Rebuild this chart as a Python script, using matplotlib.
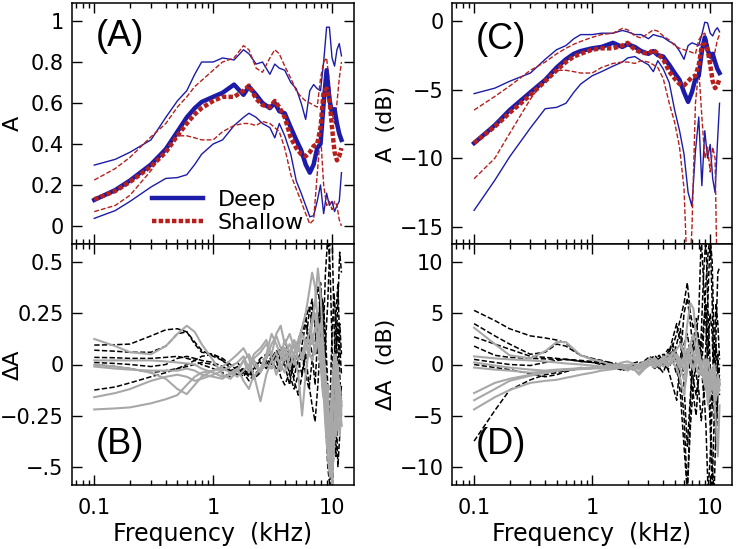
import numpy as np
import matplotlib
matplotlib.use("Agg")
import matplotlib.pyplot as plt
from matplotlib.ticker import FixedLocator, FixedFormatter, LogLocator, NullFormatter

# frequency grid (kHz) for the absorbance panels
freq = [0.1, 0.15, 0.2, 0.3, 0.4, 0.5, 0.6, 0.7, 0.8, 1.0, 1.2, 1.5, 1.8, 2.0, 2.3, 2.6,
        3.0, 3.3, 3.6, 4.0, 4.5, 5.0, 5.5, 6.0, 6.5, 7.0, 7.5, 8.0, 8.5, 9.0, 9.5, 10.0,
        10.5, 11.0, 11.5, 12.0]

# panel A, absorbance
deep_mean = [.127, .175, .222, .30, .375, .46, .53, .575, .605, .63, .65, .69, .64, .68, .64, .60,
             .575, .60, .56, .55, .48, .42, .37, .30, .26, .30, .38, .40, .60, .76, .62, .55,
             .57, .50, .45, .42]
deep_hi = [.297, .325, .36, .42, .53, .61, .66, .74, .80, .80, .82, .81, .86, .84, .79, .80,
           .74, .79, .77, .76, .70, .67, .60, .52, .66, .69, .67, .66, .80, .97, .97, .82,
           .78, .86, .89, .83]
deep_lo = [.037, .075, .12, .19, .232, .236, .25, .30, .35, .40, .42, .49, .53, .55, .53, .50,
           .48, .43, .50, .44, .35, .22, .16, .10, .045, .05, .12, .20, .06, .16, .10, .12,
           .07, .10, .12, .26]
shal_mean = [.13, .17, .215, .29, .36, .44, .50, .545, .575, .61, .63, .63, .66, .685, .62, .59,
             .58, .61, .58, .53, .43, .38, .35, .34, .36, .39, .40, .48, .66, .67, .62, .48,
             .36, .32, .34, .38]
shal_hi = [.224, .28, .335, .435, .50, .58, .63, .68, .71, .76, .80, .82, .88, .86, .77, .75,
           .82, .86, .84, .78, .72, .66, .63, .61, .60, .59, .58, .72, .80, .82, .70, .55,
           .50, .60, .72, .80]
shal_lo = [.07, .10, .15, .27, .38, .44, .44, .43, .42, .42, .46, .49, .50, .50, .49, .51,
           .50, .48, .46, .38, .25, .18, .12, .06, .01, .03, .25, .45, .20, .10, .12, .08,
           .12, .10, .03, .0]

# panel C, absorbance in dB
deep_mean_db = [-8.9, -7.6, -6.5, -5.2, -4.3, -3.4, -2.8, -2.4, -2.2, -2.0, -1.9, -1.6, -1.9, -1.7,
                -1.9, -2.2, -2.4, -2.2, -2.5, -2.6, -3.2, -3.8, -4.3, -5.2, -5.9, -5.2, -4.2, -4.0,
                -2.2, -1.2, -2.1, -2.6, -2.4, -3.0, -3.5, -3.8]
deep_hi_db = [-5.3, -4.9, -4.4, -3.8, -2.8, -2.1, -1.8, -1.3, -1.0, -1.0, -0.9, -0.9, -0.7, -0.8,
              -1.0, -1.0, -1.3, -1.0, -1.1, -1.2, -1.5, -1.7, -2.2, -2.8, -1.8, -1.6, -1.7, -1.8,
              -1.0, -0.1, -0.15, -0.9, -1.1, -0.7, -0.5, -0.8]
deep_lo_db = [-13.8, -11.6, -9.9, -7.8, -6.4, -6.3, -6.0, -5.2, -4.6, -4.0, -3.7, -3.3, -3.0, -2.7,
              -2.6, -2.9, -3.2, -3.7, -2.9, -3.5, -4.5, -6.5, -8.0, -9.7, -12.5, -13.5, -9.5, -7.0,
              -12.0, -8.0, -10.0, -9.0, -11.5, -12.5, -9.0, -6.0]
shal_mean_db = [-8.9, -7.7, -6.7, -5.4, -4.4, -3.6, -3.0, -2.6, -2.4, -2.1, -2.0, -2.0, -1.8, -1.6,
                -2.1, -2.3, -2.4, -2.1, -2.4, -2.8, -3.7, -4.2, -4.6, -4.7, -4.4, -4.1, -4.0, -3.2,
                -1.8, -1.7, -2.1, -3.2, -4.4, -4.9, -4.7, -4.2]
shal_hi_db = [-6.5, -5.5, -4.75, -3.6, -3.0, -2.4, -2.0, -1.7, -1.5, -1.2, -1.0, -0.9, -0.55, -0.65,
              -1.1, -1.25, -0.9, -0.65, -0.75, -1.1, -1.4, -1.8, -2.0, -2.1, -2.2, -2.3, -2.4, -1.4,
              -1.0, -0.9, -1.5, -2.6, -3.0, -2.2, -1.4, -1.0]
shal_lo_db = [-11.5, -10.0, -8.2, -5.7, -4.2, -3.6, -3.6, -3.7, -3.8, -3.8, -3.4, -3.1, -3.0, -3.0,
              -3.1, -2.9, -3.0, -3.2, -3.4, -4.2, -6.0, -7.4, -9.2, -12.2, -20.0, -15.2, -6.0, -3.5,
              -7.0, -10.0, -9.2, -11.0, -9.2, -10.0, -20.0, -20.0]

# frequency grid (kHz) for the difference panels
freq_d = [0.1, 0.15, 0.2, 0.3, 0.4, 0.5, 0.6, 0.7, 0.8, 1.0, 1.2, 1.4, 1.6, 1.8, 2.0, 2.2, 2.5,
          2.8, 3.1, 3.4, 3.7, 4.0, 4.4, 4.8, 5.2, 5.6, 6.0, 6.4, 6.8, 7.2, 7.6, 8.0, 8.4, 8.8,
          9.2, 9.6, 10.0, 10.4, 10.8, 11.2, 11.6, 12.0]

# panel B, delta absorbance (black dashed, gray solid)
dA_black = [
    [0.095, 0.097, 0.10, 0.14, 0.17, 0.175, 0.16, 0.11, 0.07, 0.04, 0.02, -0.01, 0.01, -0.03, -0.05,
     -0.02, 0.02, 0.03, 0.06, 0.04, -0.03, 0.02, 0.05, -0.02, 0.08, 0.15, 0.22, 0.28, 0.20, 0.30,
     0.38, 0.25, 0.10, 0.45, 0.62, 0.50, 0.10, -0.30, -0.45, -0.10, 0.20, 0.05],
    [0.07, 0.065, 0.06, 0.06, 0.09, 0.15, 0.16, 0.10, 0.06, 0.05, 0.03, 0.00, -0.03, -0.06, -0.02,
     -0.07, -0.04, 0.02, 0.00, 0.05, 0.08, 0.00, -0.10, 0.05, 0.12, 0.18, 0.25, 0.10, 0.28, 0.20,
     0.15, 0.35, 0.30, 0.05, -0.20, -0.45, -0.62, -0.40, 0.10, 0.30, 0.55, 0.45],
    [0.035, 0.033, 0.03, 0.03, 0.035, 0.04, 0.03, 0.02, 0.04, 0.05, 0.02, -0.02, -0.04, -0.03, -0.06,
     -0.03, 0.01, -0.02, 0.03, 0.07, 0.02, 0.05, -0.05, -0.12, -0.05, 0.10, 0.20, 0.15, 0.05, -0.10,
     0.15, 0.28, 0.05, -0.15, -0.35, -0.20, 0.15, 0.35, 0.20, -0.05, -0.25, -0.10],
    [0.01, 0.005, 0.0, -0.01, 0.0, 0.03, 0.04, 0.03, 0.02, 0.01, -0.01, -0.03, -0.05, -0.04, -0.08,
     -0.05, -0.02, 0.01, -0.02, 0.03, 0.05, 0.08, 0.02, -0.08, -0.15, -0.05, 0.05, -0.10, -0.20, -0.28,
     -0.10, 0.12, 0.30, 0.15, -0.10, -0.40, -0.55, -0.30, 0.05, 0.20, -0.05, -0.20],
    [-0.125, -0.11, -0.09, -0.06, -0.04, -0.02, -0.01, 0.0, 0.01, 0.0, -0.02, -0.03, -0.01, -0.05,
     -0.03, -0.06, -0.03, 0.0, 0.04, 0.02, -0.06, -0.10, -0.04, 0.05, 0.02, -0.05, 0.10, 0.25, 0.32,
     0.18, 0.05, 0.40, 0.20, -0.25, -0.50, -0.60, -0.30, 0.00, 0.25, 0.40, 0.10, -0.05],
    [0.0, -0.01, -0.02, -0.04, -0.03, -0.02, 0.0, 0.02, 0.0, -0.02, -0.04, -0.06, -0.04, -0.02, -0.05,
     -0.01, 0.03, 0.05, 0.02, -0.02, 0.06, 0.12, 0.04, -0.06, 0.03, 0.08, -0.05, -0.12, 0.02, 0.10,
     0.25, 0.05, -0.15, 0.10, 0.30, 0.60, 0.65, 0.20, -0.20, -0.50, -0.35, -0.15],
]
dA_gray = [
    [0.125, 0.09, 0.06, 0.05, 0.09, 0.15, 0.19, 0.16, 0.10, 0.02, -0.05, -0.07, -0.03, 0.02, -0.04,
     0.03, 0.06, 0.10, 0.05, 0.15, 0.19, 0.10, 0.15, 0.08, 0.12, 0.18, 0.25, 0.35, 0.45, 0.38, 0.20,
     0.10, -0.10, -0.30, -0.45, -0.55, -0.30, -0.10, 0.05, -0.15, -0.25, -0.18],
    [0.02, 0.02, 0.02, 0.02, 0.015, 0.01, 0.005, 0.0, -0.02, -0.04, -0.06, -0.05, -0.03, 0.02, 0.05,
     0.00, -0.04, 0.03, 0.10, 0.14, 0.08, 0.02, 0.06, 0.12, 0.08, 0.04, 0.10, 0.15, 0.22, 0.30, 0.47,
     0.35, 0.10, -0.05, -0.20, -0.35, -0.15, 0.05, -0.10, -0.25, -0.35, -0.20],
    [-0.01, -0.02, -0.025, -0.03, -0.03, -0.03, -0.02, -0.03, -0.05, -0.06, -0.07, -0.04, -0.02, -0.08,
     -0.12, -0.05, -0.18, -0.05, 0.02, 0.06, -0.03, 0.05, 0.10, 0.04, -0.05, -0.25, -0.05, 0.08, 0.15,
     0.05, 0.12, 0.20, 0.05, -0.15, -0.30, -0.45, -0.55, -0.40, -0.20, -0.30, -0.15, -0.25],
    [-0.16, -0.14, -0.12, -0.08, -0.06, -0.05, -0.06, -0.08, -0.07, -0.05, -0.03, -0.01, 0.01, 0.04,
     -0.02, 0.05, 0.08, 0.12, 0.03, -0.05, 0.02, 0.08, -0.02, 0.06, 0.10, 0.02, 0.08, 0.12, 0.10, 0.18,
     0.14, 0.05, -0.05, -0.20, -0.40, -0.30, -0.10, -0.20, -0.35, -0.25, -0.10, -0.20],
    [-0.22, -0.215, -0.21, -0.19, -0.17, -0.15, -0.10, -0.06, -0.04, -0.03, -0.02, -0.04, -0.06, -0.03,
     0.00, 0.02, -0.03, 0.00, -0.02, 0.03, 0.00, -0.04, 0.04, 0.10, 0.02, 0.05, 0.12, 0.06, 0.02, 0.08,
     0.15, 0.12, 0.00, -0.10, -0.25, -0.50, -0.40, -0.30, -0.20, -0.05, -0.15, -0.30],
    [0.0, -0.01, -0.02, -0.04, -0.07, -0.12, -0.145, -0.10, -0.06, -0.03, -0.01, 0.02, 0.05, 0.08, 0.03,
     -0.06, -0.02, 0.05, 0.15, 0.10, 0.04, 0.12, 0.06, 0.00, 0.08, 0.15, 0.10, 0.04, 0.20, 0.25, 0.10,
     0.00, -0.15, -0.20, -0.10, -0.40, -0.60, -0.30, -0.10, 0.00, -0.20, -0.30],
]

# panel D, delta absorbance in dB
dB_black = [
    [5.3, 4.3, 3.5, 2.8, 2.6, 2.4, 2.1, 1.4, 0.9, 0.5, 0.3, 0.2, 0.1, -0.2, 0.0, -0.3, -0.1, 0.3, 0.6,
     0.2, -0.3, 0.5, 1.2, 1.8, 3.0, 4.5, 6.0, 8.0, 5.0, 3.5, 4.5, 2.0, -1.0, 3.0, 8.0, 11.0, 12.5,
     6.0, -2.0, -6.0, -3.0, -1.0],
    [4.0, 2.8, 2.0, 1.0, 1.2, 2.0, 1.8, 1.3, 0.9, 0.6, 0.4, 0.2, -0.1, -0.4, -0.2, 0.1, 0.3, -0.2, 0.1,
     0.5, 0.9, 0.3, -0.5, 0.5, 2.0, 3.5, -2.0, -8.0, -3.0, 1.0, 3.0, 5.0, 12.5, 8.0, 4.0, -1.0, -6.0,
     -12.5, -5.0, 3.0, 9.0, 9.5],
    [2.7, 2.0, 1.5, 0.8, 0.7, 0.6, 0.5, 0.4, 0.3, 0.2, 0.1, -0.1, -0.3, -0.2, -0.4, -0.1, 0.0, 0.2, 0.4,
     0.1, -0.4, 0.0, 1.0, 2.0, 1.0, -1.5, -5.0, -12.5, -4.0, 2.0, 4.0, 2.5, 0.0, -3.0, -1.0, 2.0, 5.0,
     3.0, -4.0, -8.0, -3.0, 0.0],
    [1.8, 0.9, 0.7, 0.6, 0.55, 0.5, 0.5, 0.45, 0.4, 0.3, 0.2, 0.0, -0.2, -0.1, -0.3, -0.5, -0.2, 0.1,
     -0.2, 0.3, 0.6, 1.0, -0.5, -2.0, -3.5, 0.5, 5.0, 6.5, 4.0, 1.0, -1.0, -2.5, -5.5, -3.0, 2.0, 7.0,
     12.5, 10.0, 2.0, -3.0, 1.0, -2.0],
    [0.5, 0.2, 0.0, -0.1, 0.2, 0.4, 0.5, 0.4, 0.3, 0.2, 0.0, -0.2, -0.4, -0.5, -0.2, -0.4, 0.0, 0.4, 0.8,
     0.2, -0.3, -0.8, 0.5, 1.5, 0.0, -3.0, -8.0, -12.5, -6.0, -2.0, 0.5, 2.5, 1.0, -2.0, -6.0, -12.5,
     -9.0, -4.0, 0.0, 2.0, -1.0, -3.0],
    [-7.5, -4.5, -2.5, -1.5, -1.0, -0.8, -0.6, -0.5, -0.4, -0.3, -0.2, -0.3, -0.1, -0.3, -0.5, -0.2, 0.1,
     0.3, 0.0, -0.4, 0.2, 0.8, 1.5, 0.5, -1.0, -0.5, 2.0, 3.0, 1.0, -1.5, -3.0, -1.0, 1.5, 4.0, 6.0,
     2.0, -4.0, -10.0, -12.5, -6.0, -2.0, -1.0],
    [0.0, -0.3, -0.5, -0.9, -1.2, -1.0, -0.7, -0.5, -0.3, -0.4, -0.3, -0.1, -0.3, -0.6, -0.4, -0.1, -0.3,
     0.0, 0.5, 0.9, 0.3, -0.2, 0.8, 2.5, 4.0, 2.0, 0.0, 1.5, -1.0, -3.0, -5.0, -1.0, 3.0, 9.0, 12.5,
     5.0, 0.0, -4.0, 1.0, 6.0, 4.0, 0.5],
]
dB_gray = [
    [3.6, 2.0, 0.9, 0.6, 1.3, 2.2, 2.2, 1.5, 0.9, 0.5, 0.3, 0.0, -0.3, -0.2, -0.5, -0.4, -0.8, -0.2, 0.3,
     0.6, 0.2, 0.8, 0.4, 1.0, 1.5, 2.0, 1.0, 4.0, 6.0, 5.5, 3.0, 1.0, 0.0, -1.0, 0.5, -2.0, -3.0, -1.5,
     0.0, -2.5, -3.0, -2.0],
    [0.8, 0.6, 0.5, 0.4, 0.3, 0.2, 0.1, 0.05, 0.0, -0.1, -0.2, -0.1, 0.0, 0.2, 0.3, 0.1, -0.2, 0.2, 0.6,
     0.4, 0.0, 0.6, 1.0, 0.5, 0.2, -0.5, -1.5, 0.5, 2.0, 1.0, 0.0, -1.0, -0.5, 0.5, -1.0, -3.0, -1.5,
     -0.5, -1.0, -2.0, -2.5, -1.8],
    [0.2, -0.1, -0.3, -0.5, -0.6, -0.5, -0.45, -0.4, -0.35, -0.3, -0.4, -0.2, 0.0, -0.3, -0.6, -0.3,
     -1.0, -0.4, 0.0, 0.3, -0.2, 0.3, 0.7, 0.2, -0.3, -1.5, -3.0, -0.5, 1.0, 0.5, 1.5, 1.0, 0.0, -1.5,
     -0.5, 0.5, -1.0, -2.0, -3.0, -1.5, -2.0, -1.5],
    [-0.3, -0.5, -0.6, -0.8, -0.7, -0.6, -0.5, -0.45, -0.4, -0.35, -0.3, -0.2, -0.1, -0.4, -0.2, 0.1,
     -0.3, -0.1, 0.3, 0.0, 0.4, 0.2, -0.2, 0.4, 0.8, 0.3, -0.5, 0.5, 1.5, 1.0, 0.5, 0.0, -0.5, -1.5,
     -2.5, -1.0, -0.5, -1.5, -2.5, -3.5, -2.0, -2.5],
    [-2.8, -1.8, -1.4, -1.0, -0.8, -0.6, -0.5, -0.45, -0.4, -0.35, -0.3, -0.3, -0.2, 0.0, -0.2, -0.4,
     -0.1, 0.2, 0.0, -0.3, 0.2, 0.5, 0.0, 0.6, 1.0, 0.5, 0.0, 1.0, 2.0, 3.0, 1.5, 0.5, -1.0, -0.5,
     -2.0, -4.0, -2.0, -1.0, -3.0, -6.0, -9.0, -4.0],
    [-3.5, -2.4, -1.6, -1.1, -0.8, -0.6, -0.5, -0.5, -0.45, -0.4, -0.35, -0.3, -0.35, -0.2, 0.0, -0.2,
     -0.5, 0.0, 0.2, 0.6, 0.2, -0.2, 0.5, 1.2, 0.6, 0.0, 0.8, 1.5, 0.5, -0.5, 0.5, 1.5, 0.0, -1.0, 0.5,
     -1.5, -2.5, -1.0, 0.0, -1.5, -2.5, -1.5],
    [-4.4, -3.2, -2.5, -1.8, -1.6, -1.5, -1.3, -1.15, -1.0, -0.8, -0.6, -0.5, -0.4, -0.3, -0.5, -0.3,
     0.0, 0.3, 0.1, -0.2, 0.1, 0.4, 0.0, 0.5, 0.3, -0.3, 0.5, 1.0, 0.2, -0.5, 0.0, 0.8, 0.2, -0.8,
     -2.0, -3.0, -1.0, -0.5, -2.0, -3.0, -1.0, -2.0],
]

BLUE = '#1c1ca8'
RED = '#b5201c'
GRAY = '#a8a8a8'

plt.rcParams['font.family'] = 'DejaVu Sans'
fig = plt.figure(figsize=(7.37, 5.49), dpi=100)

L1, R1 = 72 / 737, 354 / 737
L2, R2 = 452 / 737, 732 / 737
T, MID, BOT = 1 - 3 / 549, 1 - 244 / 549, 1 - 485 / 549

axA = fig.add_axes([L1, MID, R1 - L1, T - MID])
axB = fig.add_axes([L1, BOT, R1 - L1, MID - BOT])
axC = fig.add_axes([L2, MID, R2 - L2, T - MID])
axD = fig.add_axes([L2, BOT, R2 - L2, MID - BOT])


def style(ax, ylim, yticks, ylabels, bottom):
    ax.set_xscale('log')
    ax.set_xlim(0.065, 15.3)
    ax.set_ylim(*ylim)
    ax.xaxis.set_major_locator(FixedLocator([0.1, 1, 10]))
    ax.xaxis.set_minor_locator(LogLocator(base=10, subs=np.arange(2, 10)))
    ax.xaxis.set_minor_formatter(NullFormatter())
    if bottom:
        ax.xaxis.set_major_formatter(FixedFormatter(['0.1', '1', '10']))
    else:
        ax.xaxis.set_major_formatter(NullFormatter())
    ax.yaxis.set_major_locator(FixedLocator(yticks))
    ax.yaxis.set_major_formatter(FixedFormatter(ylabels))
    ax.tick_params(which='both', direction='in', top=True, right=True, width=1.0)
    ax.tick_params(which='major', length=7, labelsize=15)
    ax.tick_params(which='minor', length=3.5)
    ax.tick_params(axis='x', pad=9)
    ax.tick_params(axis='y', pad=6)
    for s in ax.spines.values():
        s.set_linewidth(1.1)


style(axA, (-0.088, 1.088), [0, 0.2, 0.4, 0.6, 0.8, 1], ['0', '0.2', '0.4', '0.6', '0.8', '1'], False)
style(axB, (-0.59, 0.59), [-0.5, -0.25, 0, 0.25, 0.5], ['\u2212.5', '\u22120.25', '0', '0.25', '0.5'], True)
style(axC, (-16.25, 1.3), [-15, -10, -5, 0], ['\u221215', '\u221210', '\u22125', '0'], False)
style(axD, (-11.8, 11.8), [-10, -5, 0, 5, 10], ['\u221210', '\u22125', '0', '5', '10'], True)

# panel A
axA.plot(freq, deep_hi, color=BLUE, lw=1.0)
axA.plot(freq, deep_lo, color=BLUE, lw=1.0)
axA.plot(freq, shal_hi, color=RED, lw=1.0, dashes=(3.5, 1.5))
axA.plot(freq, shal_lo, color=RED, lw=1.0, dashes=(3.5, 1.5))
axA.plot(freq, deep_mean, color=BLUE, lw=3.2, label='Deep')
axA.plot(freq, shal_mean, color=RED, lw=3.2, dashes=(1.0, 0.5), label='Shallow')
axA.legend(loc='lower left', bbox_to_anchor=(0.285, 0.045), frameon=False, fontsize=16,
           handlelength=2.3, handletextpad=0.63, labelspacing=0.15, borderpad=0, borderaxespad=0)

# panel C
axC.plot(freq, deep_hi_db, color=BLUE, lw=1.0)
axC.plot(freq, deep_lo_db, color=BLUE, lw=1.0)
axC.plot(freq, shal_hi_db, color=RED, lw=1.0, dashes=(3.5, 1.5))
axC.plot(freq, shal_lo_db, color=RED, lw=1.0, dashes=(3.5, 1.5))
axC.plot(freq, deep_mean_db, color=BLUE, lw=3.2)
axC.plot(freq, shal_mean_db, color=RED, lw=3.2, dashes=(1.0, 0.5))

# panels B and D
for y in dA_black:
    axB.plot(freq_d, y, color='black', lw=1.1, dashes=(3.5, 1.5))
for y in dA_gray:
    axB.plot(freq_d, y, color=GRAY, lw=1.5)
for y in dB_black:
    axD.plot(freq_d, y, color='black', lw=1.1, dashes=(3.5, 1.5))
for y in dB_gray:
    axD.plot(freq_d, y, color=GRAY, lw=1.5)

# panel letters
for ax, txt, y in [(axA, '(A)', 0.86), (axB, '(B)', 0.17), (axC, '(C)', 0.85), (axD, '(D)', 0.17)]:
    ax.text(0.085, y, txt, transform=ax.transAxes, fontsize=26, va='center', ha='left',
            family='Liberation Sans')

axA.set_ylabel('A', fontsize=16)
axA.yaxis.set_label_coords(-0.175, 0.5)
axB.set_ylabel('\u0394A', fontsize=16)
axB.yaxis.set_label_coords(-0.175, 0.5)
axC.set_ylabel('A  (dB)', fontsize=16)
axC.yaxis.set_label_coords(-0.2, 0.5)
axD.set_ylabel('\u0394A  (dB)', fontsize=16)
axD.yaxis.set_label_coords(-0.2, 0.5)
for ax in (axB, axD):
    ax.set_xlabel('Frequency  (kHz)', fontsize=17)
    ax.xaxis.set_label_coords(0.5, -0.155)

fig.savefig('out.png', dpi=100)
